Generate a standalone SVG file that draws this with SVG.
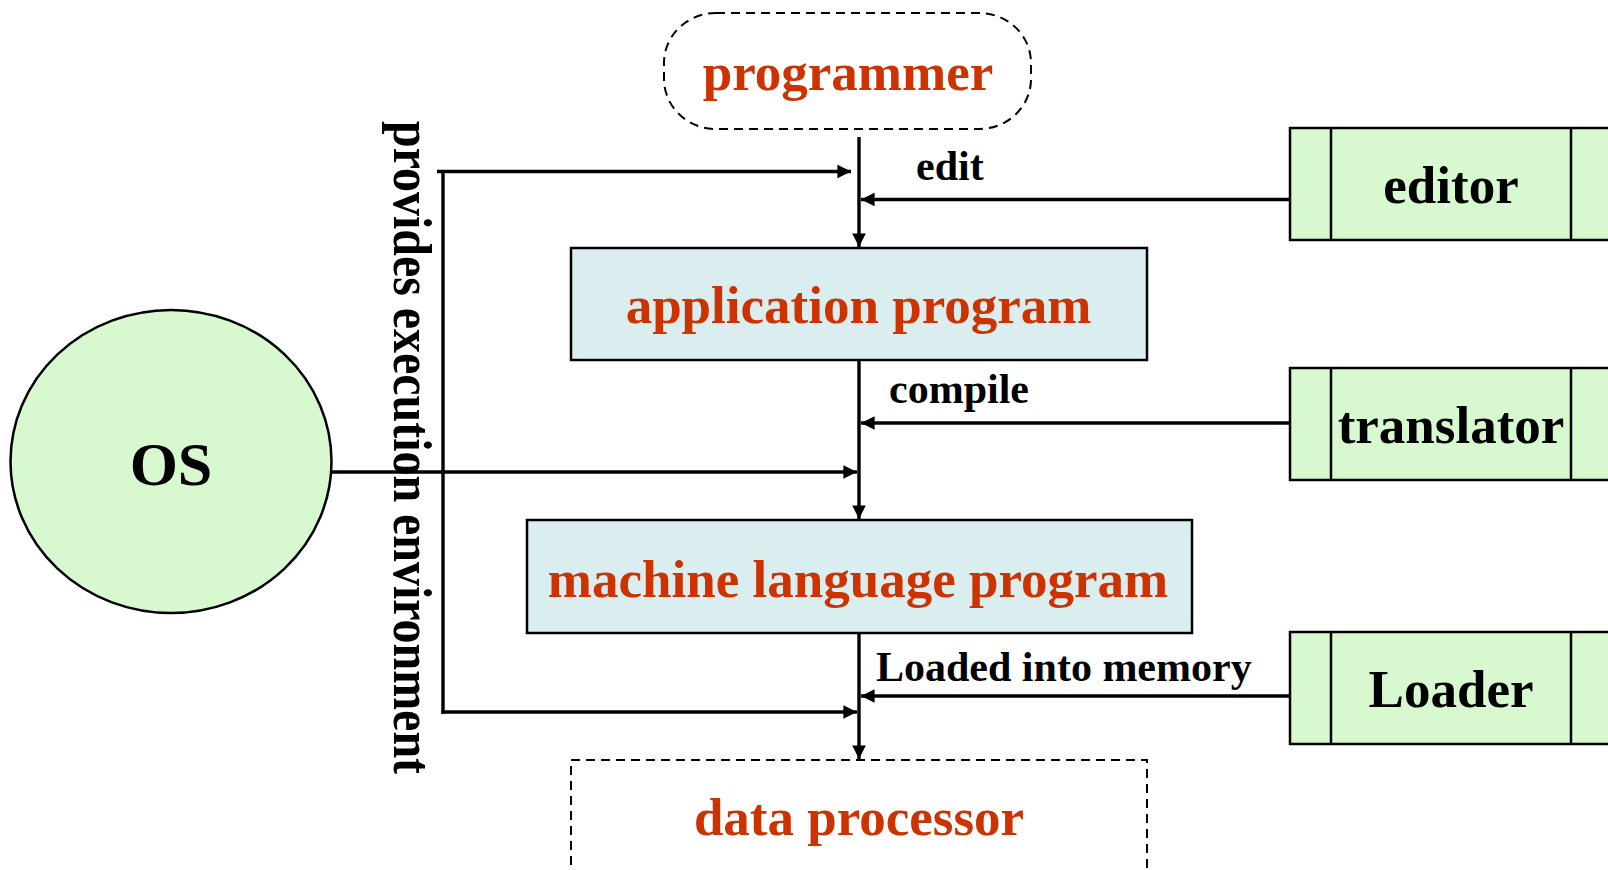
<svg xmlns="http://www.w3.org/2000/svg" width="1608" height="870" viewBox="0 0 1608 870">
<defs>
<style>
.t{font-family:"Liberation Serif","Times New Roman",serif;font-weight:bold}
.red{fill:#CC3300;font-size:53px;text-anchor:middle}
.blk{fill:#000;font-size:53px;text-anchor:middle}
.lbl{fill:#000;font-size:42px}
.box{fill:#DAEEF0;stroke:#000;stroke-width:2.5}
.grn{fill:#D8F8D0;stroke:#000;stroke-width:2.5}
.dash{fill:none;stroke:#000;stroke-width:2;stroke-dasharray:9,6}
.c{fill:none;stroke:#000;stroke-width:3.4}
</style>
<marker id="ah" viewBox="0 0 10 10" refX="10" refY="5" markerWidth="4.4" markerHeight="4" markerUnits="strokeWidth" orient="auto">
<path d="M0,0 L10,5 L0,10 Z" fill="#000"/>
</marker>
</defs>
<rect width="1608" height="870" fill="#fff"/>

<g id="programmer">
<rect x="664" y="13" width="367" height="116" rx="52" ry="50" class="dash"/>
<text x="848" y="90" class="t red">programmer</text>
</g>

<g id="application-program">
<rect x="571" y="248" width="576" height="112" class="box"/>
<text x="858.5" y="323" class="t red">application program</text>
</g>

<g id="machine-language-program">
<rect x="527" y="520" width="665" height="113" class="box"/>
<text x="858" y="597" class="t red">machine language program</text>
</g>

<g id="data-processor">
<path d="M571,880 L571,760 L1147,760 L1147,880" class="dash"/>
<text x="859" y="835" class="t red">data processor</text>
</g>

<g id="os">
<ellipse cx="171" cy="461.5" rx="160.5" ry="151.5" class="grn"/>
<text x="171" y="485" class="t blk" style="font-size:62px">OS</text>
</g>

<g id="editor">
<rect x="1290" y="128" width="400" height="112" class="grn"/>
<line x1="1331" y1="128" x2="1331" y2="240" stroke="#000" stroke-width="2.5"/>
<line x1="1571" y1="128" x2="1571" y2="240" stroke="#000" stroke-width="2.5"/>
<text x="1451" y="203" class="t blk">editor</text>
</g>

<g id="translator">
<rect x="1290" y="368" width="400" height="112" class="grn"/>
<line x1="1331" y1="368" x2="1331" y2="480" stroke="#000" stroke-width="2.5"/>
<line x1="1571" y1="368" x2="1571" y2="480" stroke="#000" stroke-width="2.5"/>
<text x="1451" y="443" class="t blk">translator</text>
</g>

<g id="loader">
<rect x="1290" y="632" width="400" height="112" class="grn"/>
<line x1="1331" y1="632" x2="1331" y2="744" stroke="#000" stroke-width="2.5"/>
<line x1="1571" y1="632" x2="1571" y2="744" stroke="#000" stroke-width="2.5"/>
<text x="1451" y="707" class="t blk">Loader</text>
</g>

<g id="connectors">
<line x1="859" y1="137" x2="859" y2="247" class="c" marker-end="url(#ah)"/>
<line x1="859" y1="360" x2="859" y2="519" class="c" marker-end="url(#ah)"/>
<line x1="859" y1="633" x2="859" y2="759" class="c" marker-end="url(#ah)"/>
<line x1="1290" y1="199.5" x2="861" y2="199.5" class="c" marker-end="url(#ah)"/>
<line x1="1290" y1="423" x2="861" y2="423" class="c" marker-end="url(#ah)"/>
<line x1="1290" y1="696" x2="861" y2="696" class="c" marker-end="url(#ah)"/>
<line x1="437" y1="171.5" x2="851" y2="171.5" class="c" marker-end="url(#ah)"/>
<line x1="331" y1="472" x2="857" y2="472" class="c" marker-end="url(#ah)"/>
<line x1="443" y1="170" x2="443" y2="713.7" class="c"/>
<line x1="441.3" y1="712" x2="857" y2="712" class="c" marker-end="url(#ah)"/>
<text x="916" y="180" class="t lbl">edit</text>
<text x="889" y="403" class="t lbl">compile</text>
<text x="876" y="681" class="t lbl">Loaded into memory</text>
<text transform="translate(394,121) rotate(90)" x="0" y="0" class="t" style="font-size:54px" textLength="653" lengthAdjust="spacingAndGlyphs">provides execution environment</text>
</g>
</svg>
